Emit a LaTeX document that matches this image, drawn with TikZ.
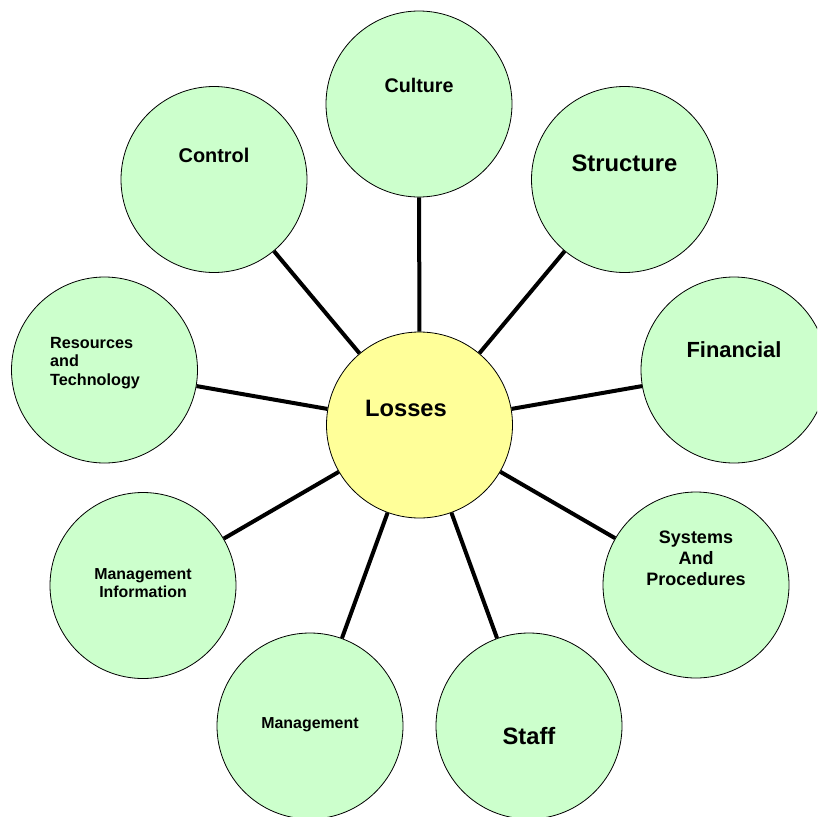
\documentclass[tikz,border=0pt]{standalone}
\usepackage{fontspec}
\setmainfont{Liberation Sans}
\definecolor{bubblegreen}{HTML}{CCFFCC}
\definecolor{hubyellow}{HTML}{FFFF99}

\begin{document}
\begin{tikzpicture}[x=1pt, y=-1pt,
  bubble/.style={circle, draw, line width=0.8pt, fill=bubblegreen, minimum size=186pt, inner sep=0pt},
  hub/.style={bubble, fill=hubyellow},
  spoke/.style={line width=4pt},
  txt/.style args={#1/#2}{font=\bfseries\fontsize{#1}{#2}\selectfont, align=center, inner sep=0pt}]

\useasboundingbox (0, 0) rectangle (817, 817);
\clip (0, 0) rectangle (817, 817);

\node[hub] (losses) at (419.5, 425) {};

\node[bubble] (culture) at (419, 104) {};
\node[bubble] (structure) at (624.5, 179.5) {};
\node[bubble] (control) at (214, 179.5) {};
\node[bubble] (financial) at (734, 370) {};
\node[bubble] (resources) at (104.5, 370) {};
\node[bubble] (systems) at (696, 585) {};
\node[bubble] (mginfo) at (143, 585.5) {};
\node[bubble] (mgmt) at (310, 726) {};
\node[bubble] (staff) at (529, 726) {};

\foreach \b in {culture, structure, control, financial, resources, systems, mginfo, mgmt, staff}
  \draw[spoke] (losses) -- (\b);

\node[txt=23.7/28] (lossestxt) at ([xshift=-13.5pt, yshift=17pt]losses.center) {Losses};
\node[txt=19.7/23] (culturetxt) at ([yshift=19pt]culture.center) {Culture};
\node[txt=23.8/28] (structuretxt) at ([yshift=16.5pt]structure.center) {Structure};
\node[txt=19.9/23] (controltxt) at ([yshift=24.5pt]control.center) {Control};
\node[txt=21.9/26] (financialtxt) at ([yshift=20pt]financial.center) {Financial};
\node[txt=16.2/18.5, anchor=west, align=left] (resourcestxt) at ([xshift=-54.5pt, yshift=7pt]resources.center) {Resources\\and\\Technology};
\node[txt=18/21] (systemstxt) at ([yshift=27pt]systems.center) {Systems\\And\\Procedures};
\node[txt=15.9/18] (mginfotxt) at ([yshift=2pt]mginfo.center) {Management\\Information};
\node[txt=15.9/18] (mgmttxt) at ([yshift=1pt]mgmt.center) {Management};
\node[txt=23.7/28] (stafftxt) at ([yshift=-10pt]staff.center) {Staff};

\end{tikzpicture}
\end{document}
